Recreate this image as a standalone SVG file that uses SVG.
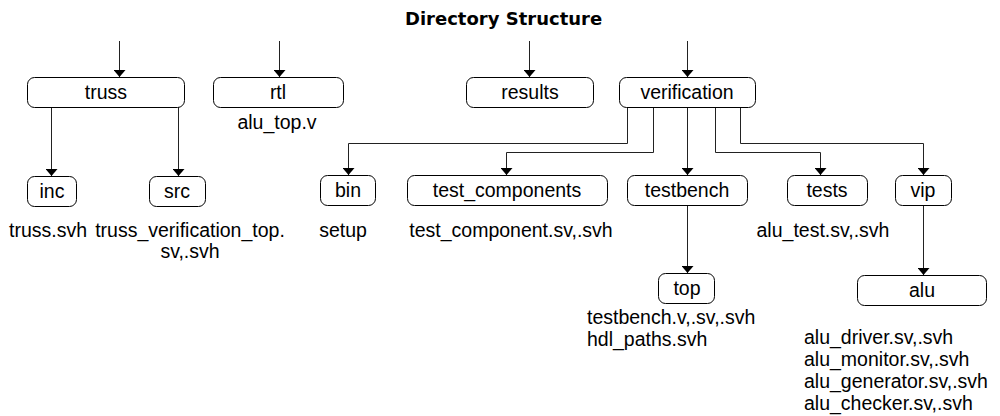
<svg xmlns="http://www.w3.org/2000/svg" width="1000" height="416" viewBox="0 0 1000 416">
  <defs>
    <marker id="arrow" viewBox="0 0 7 12" refX="7" refY="6" markerWidth="7" markerHeight="12" markerUnits="userSpaceOnUse" orient="auto">
      <path d="M0,0 L7,6 L0,12 Z" fill="#000"/>
    </marker>
    <style>
      .box { fill: #fff; stroke: #000; stroke-width: 1; }
      .lbl { font-family: "Liberation Sans", Arial, sans-serif; font-size: 19.5px; fill: #000; text-anchor: middle; }
      .note { font-family: "Liberation Sans", Arial, sans-serif; font-size: 19.5px; fill: #000; }
      .mid { text-anchor: middle; }
      .edge { fill: none; stroke: #222; stroke-width: 1; marker-end: url(#arrow); }
      .title { font-family: "DejaVu Sans", Verdana, sans-serif; font-weight: bold; font-size: 18px; fill: #000; }
    </style>
  </defs>

  <rect width="1000" height="416" fill="#fff"/>

  <text class="title" x="405" y="25">Directory Structure</text>

  <!-- connectors -->
  <g id="connectors">
    <path class="edge" d="M119.5,41 V77"/>
    <path class="edge" d="M279.5,41 V77"/>
    <path class="edge" d="M529.5,41 V77"/>
    <path class="edge" d="M687.5,41 V77"/>
    <path class="edge" d="M51.5,107 V176"/>
    <path class="edge" d="M178.5,107 V176"/>
    <path class="edge" d="M627.5,107 V143.5 H348.5 V175"/>
    <path class="edge" d="M653.5,107 V152.5 H506.5 V175"/>
    <path class="edge" d="M687.5,107 V175"/>
    <path class="edge" d="M715.5,107 V152.5 H820.5 V175"/>
    <path class="edge" d="M740.5,107 V143.5 H923.5 V175"/>
    <path class="edge" d="M687.5,206 V273"/>
    <path class="edge" d="M923.5,206 V275"/>
  </g>

  <!-- top level directories -->
  <g id="truss">
    <rect class="box" x="27.5" y="77.5" width="157" height="30" rx="7"/>
    <text class="lbl" x="106" y="99">truss</text>
  </g>
  <g id="rtl">
    <rect class="box" x="213.5" y="77.5" width="130" height="30" rx="7"/>
    <text class="lbl" x="278" y="99">rtl</text>
    <text class="note mid" x="277" y="129">alu_top.v</text>
  </g>
  <g id="results">
    <rect class="box" x="466.5" y="77.5" width="127" height="30" rx="7"/>
    <text class="lbl" x="530" y="99">results</text>
  </g>
  <g id="verification">
    <rect class="box" x="619.5" y="77.5" width="136" height="30" rx="7"/>
    <text class="lbl" x="687" y="99">verification</text>
  </g>

  <!-- truss children -->
  <g id="inc">
    <rect class="box" x="27.5" y="176.5" width="49" height="30" rx="7"/>
    <text class="lbl" x="52" y="198">inc</text>
    <text class="note mid" x="48" y="237">truss.svh</text>
  </g>
  <g id="src">
    <rect class="box" x="149.5" y="176.5" width="56" height="30" rx="7"/>
    <text class="lbl" x="177" y="198">src</text>
    <text class="note mid" x="190" y="237">truss_verification_top.</text>
    <text class="note mid" x="190" y="258">sv,.svh</text>
  </g>

  <!-- verification children -->
  <g id="bin">
    <rect class="box" x="320.5" y="175.5" width="55" height="30" rx="7"/>
    <text class="lbl" x="348" y="197">bin</text>
    <text class="note mid" x="343" y="237">setup</text>
  </g>
  <g id="test_components">
    <rect class="box" x="407.5" y="175.5" width="200" height="30" rx="7"/>
    <text class="lbl" x="507" y="197">test_components</text>
    <text class="note mid" x="511" y="237">test_component.sv,.svh</text>
  </g>
  <g id="testbench">
    <rect class="box" x="627.5" y="175.5" width="120" height="30" rx="7"/>
    <text class="lbl" x="687" y="197">testbench</text>
  </g>
  <g id="tests">
    <rect class="box" x="787.5" y="175.5" width="80" height="30" rx="7"/>
    <text class="lbl" x="827" y="197">tests</text>
    <text class="note mid" x="823" y="237">alu_test.sv,.svh</text>
  </g>
  <g id="vip">
    <rect class="box" x="895.5" y="175.5" width="56" height="30" rx="7"/>
    <text class="lbl" x="923" y="197">vip</text>
  </g>

  <!-- leaf directories -->
  <g id="top">
    <rect class="box" x="658.5" y="273.5" width="56" height="30" rx="7"/>
    <text class="lbl" x="687" y="295">top</text>
    <text class="note" x="587" y="324">testbench.v,.sv,.svh</text>
    <text class="note" x="587" y="346">hdl_paths.svh</text>
  </g>
  <g id="alu">
    <rect class="box" x="857.5" y="275.5" width="129" height="30" rx="7"/>
    <text class="lbl" x="922" y="297">alu</text>
    <text class="note" x="804" y="344">alu_driver.sv,.svh</text>
    <text class="note" x="804" y="366">alu_monitor.sv,.svh</text>
    <text class="note" x="804" y="388">alu_generator.sv,.svh</text>
    <text class="note" x="804" y="410">alu_checker.sv,.svh</text>
  </g>
</svg>
